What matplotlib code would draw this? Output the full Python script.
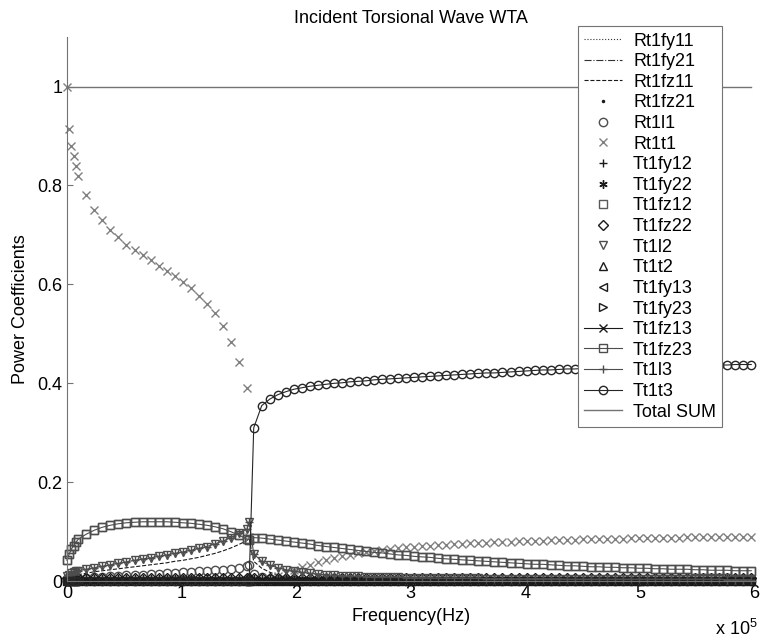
"""Power coefficients for an incident torsional wave (WTA)"""
import numpy as np
import matplotlib
matplotlib.use('Agg')
import matplotlib.pyplot as plt
from matplotlib.ticker import FuncFormatter

plt.rcParams['font.family'] = 'Liberation Sans'
plt.rcParams['mathtext.fontset'] = 'custom'
plt.rcParams['mathtext.rm'] = 'Liberation Sans'

# frequency grid, in units of 1e5 Hz (below cutoff / cutoff / above cutoff)
freq = np.array([
    0.00, 0.02, 0.04, 0.06, 0.08, 0.10, 0.17, 0.24, 0.31,
    0.38, 0.45, 0.52, 0.59, 0.66, 0.73, 0.80, 0.87, 0.94,
    1.01, 1.08, 1.15, 1.22, 1.29, 1.36, 1.43, 1.50, 1.57,
    1.59,
    1.63, 1.70, 1.77, 1.84, 1.91, 1.98, 2.05, 2.12, 2.19,
    2.26, 2.33, 2.40, 2.47, 2.54, 2.61, 2.68, 2.75, 2.82,
    2.89, 2.96, 3.03, 3.10, 3.17, 3.24, 3.31, 3.38, 3.45,
    3.52, 3.59, 3.66, 3.73, 3.80, 3.87, 3.94, 4.01, 4.08,
    4.15, 4.22, 4.29, 4.36, 4.43, 4.50, 4.57, 4.64, 4.71,
    4.78, 4.85, 4.92, 4.99, 5.06, 5.13, 5.20, 5.27, 5.34,
    5.41, 5.48, 5.55, 5.62, 5.69, 5.76, 5.83, 5.90, 5.97,
]) * 1e5

n = len(freq)

# reflected torsional mode
rt1t1 = [
    1.0, 0.915, 0.88, 0.86, 0.84, 0.82, 0.78, 0.75, 0.73,
    0.71, 0.695, 0.68, 0.67, 0.66, 0.65, 0.638, 0.628, 0.617,
    0.605, 0.592, 0.577, 0.56, 0.542, 0.516, 0.484, 0.443, 0.39,
    0.09,
    0.005, 0.003, 0.005, 0.01, 0.016, 0.022, 0.028, 0.033, 0.038,
    0.042, 0.046, 0.05, 0.053, 0.056, 0.059, 0.061, 0.063, 0.065,
    0.067, 0.068, 0.07, 0.071, 0.072, 0.073, 0.074, 0.075, 0.076,
    0.077, 0.078, 0.078, 0.079, 0.08, 0.08, 0.081, 0.081, 0.082,
    0.082, 0.083, 0.083, 0.084, 0.084, 0.085, 0.085, 0.085, 0.086,
    0.086, 0.086, 0.087, 0.087, 0.087, 0.088, 0.088, 0.088, 0.088,
    0.089, 0.089, 0.089, 0.089, 0.09, 0.09, 0.09, 0.09, 0.09,
]

# transmitted torsional mode in the third section (zero below cutoff)
tt1t3 = [0.0] * 28 + [
    0.31, 0.355, 0.368, 0.377, 0.383, 0.388, 0.391, 0.394, 0.396,
    0.398, 0.40, 0.401, 0.403, 0.404, 0.405, 0.407, 0.408, 0.409,
    0.41, 0.411, 0.412, 0.413, 0.414, 0.415, 0.416, 0.417, 0.418,
    0.419, 0.42, 0.421, 0.421, 0.422, 0.423, 0.424, 0.425, 0.426,
    0.427, 0.427, 0.428, 0.429, 0.429, 0.43, 0.43, 0.431, 0.431,
    0.432, 0.432, 0.433, 0.433, 0.434, 0.434, 0.435, 0.435, 0.435,
    0.436, 0.436, 0.436, 0.437, 0.437, 0.437, 0.438, 0.438, 0.438,
]

# transmitted flexural (z) modes
tt1fz12 = [
    0.042, 0.055, 0.065, 0.072, 0.079, 0.085, 0.095, 0.103, 0.109,
    0.113, 0.116, 0.118, 0.119, 0.12, 0.12, 0.12, 0.12, 0.119,
    0.118, 0.117, 0.115, 0.113, 0.11, 0.106, 0.1, 0.093, 0.085,
    0.084,
    0.088, 0.087, 0.085, 0.083, 0.081, 0.079, 0.077, 0.075, 0.072,
    0.07, 0.068, 0.066, 0.064, 0.062, 0.06, 0.058, 0.057, 0.055,
    0.053, 0.052, 0.05, 0.049, 0.048, 0.046, 0.045, 0.044, 0.043,
    0.042, 0.041, 0.04, 0.039, 0.038, 0.037, 0.036, 0.035, 0.034,
    0.034, 0.033, 0.032, 0.031, 0.031, 0.03, 0.029, 0.029, 0.028,
    0.028, 0.027, 0.027, 0.026, 0.026, 0.025, 0.025, 0.024, 0.024,
    0.024, 0.023, 0.023, 0.022, 0.022, 0.022, 0.021, 0.021, 0.021,
]
tt1fz23 = tt1fz12

# transmitted longitudinal modes
tt1l2 = [
    0.01, 0.013, 0.016, 0.018, 0.02, 0.021, 0.024, 0.027, 0.03,
    0.033, 0.036, 0.039, 0.042, 0.045, 0.047, 0.05, 0.053, 0.056,
    0.059, 0.062, 0.066, 0.07, 0.075, 0.081, 0.088, 0.097, 0.105,
    0.12,
    0.055, 0.04, 0.032, 0.027, 0.023, 0.02, 0.018, 0.016, 0.014,
    0.013, 0.012, 0.011, 0.01, 0.01, 0.009, 0.009, 0.008, 0.008,
    0.008, 0.007, 0.007, 0.007, 0.007, 0.006, 0.006, 0.006, 0.006,
    0.006, 0.006, 0.005, 0.005, 0.005, 0.005, 0.005, 0.005, 0.005,
    0.005, 0.005, 0.005, 0.004, 0.004, 0.004, 0.004, 0.004, 0.004,
    0.004, 0.004, 0.004, 0.004, 0.004, 0.004, 0.004, 0.004, 0.004,
    0.004, 0.004, 0.004, 0.004, 0.004, 0.003, 0.003, 0.003, 0.003,
]
tt1l3 = tt1l2

# reflected flexural (z) mode
rt1fz11 = [
    0.005, 0.007, 0.009, 0.011, 0.012, 0.013, 0.016, 0.019, 0.021,
    0.023, 0.025, 0.027, 0.029, 0.031, 0.033, 0.035, 0.037, 0.04,
    0.042, 0.045, 0.048, 0.052, 0.056, 0.061, 0.067, 0.074, 0.082,
    0.086,
    0.04, 0.026, 0.018, 0.012, 0.008, 0.006, 0.004, 0.003, 0.002,
    0.002, 0.002, 0.002, 0.001, 0.001, 0.001, 0.001, 0.001, 0.001,
] + [0.0] * 45

# reflected longitudinal mode
rt1l1 = [
    0.0, 0.002, 0.003, 0.004, 0.005, 0.006, 0.007, 0.008, 0.009,
    0.01, 0.011, 0.012, 0.012, 0.013, 0.014, 0.015, 0.016, 0.017,
    0.018, 0.019, 0.02, 0.021, 0.022, 0.023, 0.025, 0.027, 0.03,
    0.032,
    0.015, 0.008, 0.005, 0.003, 0.002, 0.002, 0.001, 0.001, 0.001,
] + [0.0] * 54

# modes that stay (almost) at zero over the whole range
zero = [0.0] * n
tt1fz22 = [0.006] * n
tt1fy22 = [0.004] * n
total_sum = [1.0] * n

asterisk = (6, 2, 0)

# (label, values, marker, linestyle, colour)
series = [
    ('Rt1fy11', zero, 'None', ':', '0.2'),
    ('Rt1fy21', zero, 'None', '-.', '0.2'),
    ('Rt1fz11', rt1fz11, 'None', '--', '0.1'),
    ('Rt1fz21', zero, '.', 'None', '0.1'),
    ('Rt1l1', rt1l1, 'o', 'None', '0.3'),
    ('Rt1t1', rt1t1, 'x', 'None', '0.5'),
    ('Tt1fy12', zero, '+', 'None', '0.1'),
    ('Tt1fy22', tt1fy22, asterisk, 'None', '0.1'),
    ('Tt1fz12', tt1fz12, 's', 'None', '0.35'),
    ('Tt1fz22', tt1fz22, 'D', 'None', '0.1'),
    ('Tt1l2', tt1l2, 'v', 'None', '0.3'),
    ('Tt1t2', zero, '^', 'None', '0.1'),
    ('Tt1fy13', zero, '<', 'None', '0.1'),
    ('Tt1fy23', zero, '>', 'None', '0.1'),
    ('Tt1fz13', zero, 'x', '-', '0.1'),
    ('Tt1fz23', tt1fz23, 's', '-', '0.3'),
    ('Tt1l3', tt1l3, '+', '-', '0.3'),
    ('Tt1t3', tt1t3, 'o', '-', '0.15'),
]

fig = plt.figure(figsize=(7.6, 6.4), dpi=100)
ax = fig.add_axes([0.088, 0.092, 0.905, 0.85])

for label, vals, mk, ls, col in series:
    if mk == '.':
        ms = 3
    elif mk == 'D':
        ms = 5
    else:
        ms = 6
    ax.plot(freq, vals, marker=mk, linestyle=ls, color=col, lw=0.8,
            ms=ms, mfc=col if mk == '.' else 'none', mew=1.0,
            label=label, clip_on=False)
ax.plot(freq, total_sum, color='0.45', lw=1.0, label='Total SUM')

ax.set_xlim(0, 6e5)
ax.set_ylim(0, 1.1)
ax.set_xticks([0, 1e5, 2e5, 3e5, 4e5, 5e5, 6e5])
ax.set_yticks([0, 0.2, 0.4, 0.6, 0.8, 1.0])
ax.xaxis.set_major_formatter(FuncFormatter(lambda v, p: '%g' % (v / 1e5)))
ax.yaxis.set_major_formatter(FuncFormatter(lambda v, p: '%g' % v))
ax.tick_params(direction='in', length=4, labelsize=13, color='0.45', pad=3)

for side in ['top', 'right']:
    ax.spines[side].set_visible(False)
for side in ['left', 'bottom']:
    ax.spines[side].set_color('0.45')

ax.set_xlabel('Frequency(Hz)', fontsize=13, labelpad=4)
ax.set_ylabel('Power Coefficients', fontsize=13, labelpad=6)
ax.set_title('Incident Torsional Wave WTA', fontsize=13, pad=10)
fig.text(0.997, 0.018, 'x 10$^5$', fontsize=13, ha='right', va='center')

lgd = ax.legend(loc='upper left', bbox_to_anchor=(0.7605, 0.959),
                bbox_transform=fig.transFigure, fontsize=13, frameon=True,
                fancybox=False, framealpha=1, edgecolor='0.45',
                labelspacing=0.2, handlelength=2.1, handletextpad=0.6,
                borderpad=0.35, borderaxespad=0)
lgd.get_frame().set_linewidth(0.8)

plt.savefig('out.png', dpi=100)
